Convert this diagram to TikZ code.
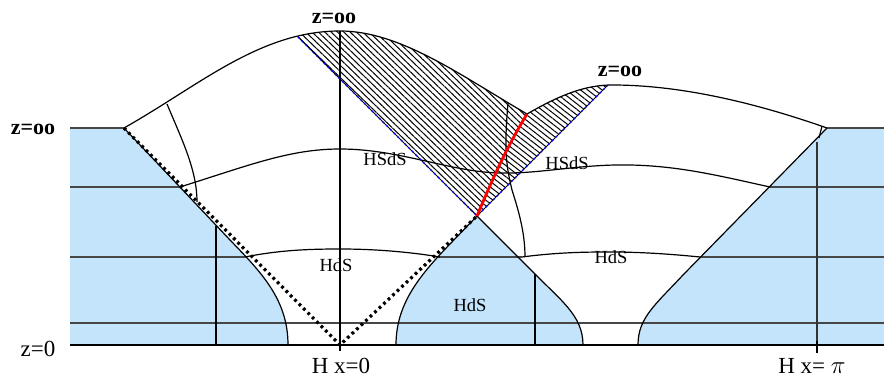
\documentclass[tikz,border=0pt]{standalone}
\usepackage{fontspec}
\setmainfont{Liberation Serif}
\usetikzlibrary{patterns.meta}
\definecolor{lblue}{RGB}{196,228,252}
\begin{document}
\begin{tikzpicture}[x=1pt,y=-1pt,line width=1.2pt,
  greyline/.style={draw=black!72,line width=1.2pt},
  dotline/.style={line width=3.2pt,dash pattern=on 2.8pt off 3.4pt},
  bluedash/.style={draw=blue,line width=1.4pt,dash pattern=on 2.2pt off 3pt},
  edge/.style={draw=black,line width=0.9pt},
  redline/.style={draw=red,line width=2.8pt},
  hatchA/.style={pattern={Lines[angle=-44,distance=4.4pt,line width=1pt]}},
  hatchB/.style={pattern={Lines[angle=-38,distance=4.4pt,line width=1pt]}},
  lbl/.style={font=\fontsize{18.5}{20}\selectfont,inner sep=0pt},
  big/.style={font=\fontsize{23}{25}\selectfont,inner sep=0pt},
  inf/.style={font=\fontsize{22}{24}\selectfont\bfseries,inner sep=0pt},
  tick/.style={line width=2.6pt}]
\useasboundingbox (0,0) rectangle (884,379);

% named points
\coordinate (Lc) at (124,128);
\coordinate (Rc) at (827,128);
\coordinate (O) at (340,345);
\coordinate (Pi) at (817,345);
\coordinate (Ap) at (477,216);
\coordinate (J) at (527,114);
\coordinate (Pk) at (340,31);
\coordinate (Bl) at (298,37);
\coordinate (Br) at (608,85);

% blue regions
\fill[lblue] (70,128) -- (Lc) -- (230,240) .. controls (262,273) and (288,300) .. (288,345) -- (70,345) -- cycle;
\fill[lblue] (Ap) -- (450,244) .. controls (418,277) and (396,305) .. (396,345) -- (583,345) .. controls (583,315) and (560,300) .. (530,269) -- cycle;
\fill[lblue] (884,128) -- (Rc) -- (683,275) .. controls (655,305) and (638,318) .. (638,345) -- (884,345) -- cycle;

% hatched regions
\begin{scope}
\clip (Lc) .. controls (200,85) and (260,31) .. (Pk) .. controls (400,31) and (460,75) .. (J) -- (527,400) -- (124,400) -- cycle;
\fill[hatchA] (Ap) -- (257,-4) -- (600,-4) -- (J) .. controls (505,150) and (490,185) .. (Ap) -- cycle;
\end{scope}
\begin{scope}
\clip (400,114) -- (J) .. controls (560,95) and (585,85) .. (612,85) .. controls (690,85) and (770,108) .. (Rc) -- (827,400) -- (400,400) -- cycle;
\fill[hatchB] (Ap) .. controls (490,185) and (505,150) .. (J) -- (527,-10) -- (703,-10) -- cycle;
\end{scope}

% horizontal lines
\draw[greyline] (70,128) -- (Lc);
\draw[greyline] (Rc) -- (884,128);
\draw[greyline] (70,187) -- (180,187);
\draw[greyline] (770,187) -- (884,187);
\draw[greyline] (70,257) -- (245,257);
\draw[greyline] (437,257) -- (522,257);
\draw[greyline] (700,257) -- (884,257);
\draw[greyline] (70,323) -- (884,323);
\draw[line width=1.3pt] (70,345) -- (884,345);

% curves across white regions
\draw (180,187) .. controls (250,165) and (290,149) .. (340,149) .. controls (400,149) and (450,172) .. (500,173) .. controls (540,174) and (580,164) .. (630,165) .. controls (680,166) and (720,176) .. (770,187);
\draw (245,257) .. controls (280,250) and (310,249) .. (340,249) .. controls (375,249) and (410,252) .. (440,257);
\draw (522,257) .. controls (560,252) and (590,252) .. (610,252) .. controls (640,252) and (670,254) .. (700,257);
\draw (167,104) .. controls (182,140) and (197,170) .. (197,202);
\draw (508,103) .. controls (504,150) and (506,165) .. (512,190) .. controls (520,215) and (525,235) .. (525,257);
\draw (822,126) -- (819,138);

% blue region boundaries
\draw (Lc) -- (230,240) .. controls (262,273) and (288,300) .. (288,345);
\draw (396,345) .. controls (396,305) and (418,277) .. (450,244) -- (Ap) -- (530,269) .. controls (560,300) and (583,315) .. (583,345);
\draw (Rc) -- (683,275) .. controls (655,305) and (638,318) .. (638,345);

% hills
\draw (Lc) .. controls (200,85) and (260,31) .. (Pk) .. controls (400,31) and (460,75) .. (J);
\draw (J) .. controls (560,95) and (585,85) .. (612,85) .. controls (690,85) and (770,108) .. (Rc);

% vertical lines
\draw (216,226) -- (216,345);
\draw (Pk) -- (O);
\draw (535,274) -- (535,345);
\draw[draw=black!80] (817,142) -- (Pi);
\draw[tick] (340,341) -- (340,351);
\draw[tick] (817,341) -- (817,353);

% hatched boundaries
\draw[edge] (Bl) -- (Ap) -- (Br);
\draw[bluedash] (Bl) -- (Ap) -- (Br);
\draw[redline] (Ap) .. controls (490,185) and (505,150) .. (J);

% dotted null lines
\draw[dotline] (Lc) -- (O) -- (Ap);

% labels
\node[inf] (t1) at (334,18) {z=oo};
\node[inf] (t2) at (620,71) {z=oo};
\node[inf] (t3) at (33,129) {z=oo};
\node[big] (z0) at (38,349) {z=0};
\node[big] (hx0) at (341,366) {H x=0};
\node[big] (hxpi) at (812,366) {H x= $\pi$};
\node[lbl] (s1) at (385,159) {HSdS};
\node[lbl] (s2) at (567,163) {HSdS};
\node[lbl] (d1) at (336,265) {HdS};
\node[lbl] (d2) at (470,305) {HdS};
\node[lbl] (d3) at (611,257) {HdS};
\end{tikzpicture}
\end{document}
